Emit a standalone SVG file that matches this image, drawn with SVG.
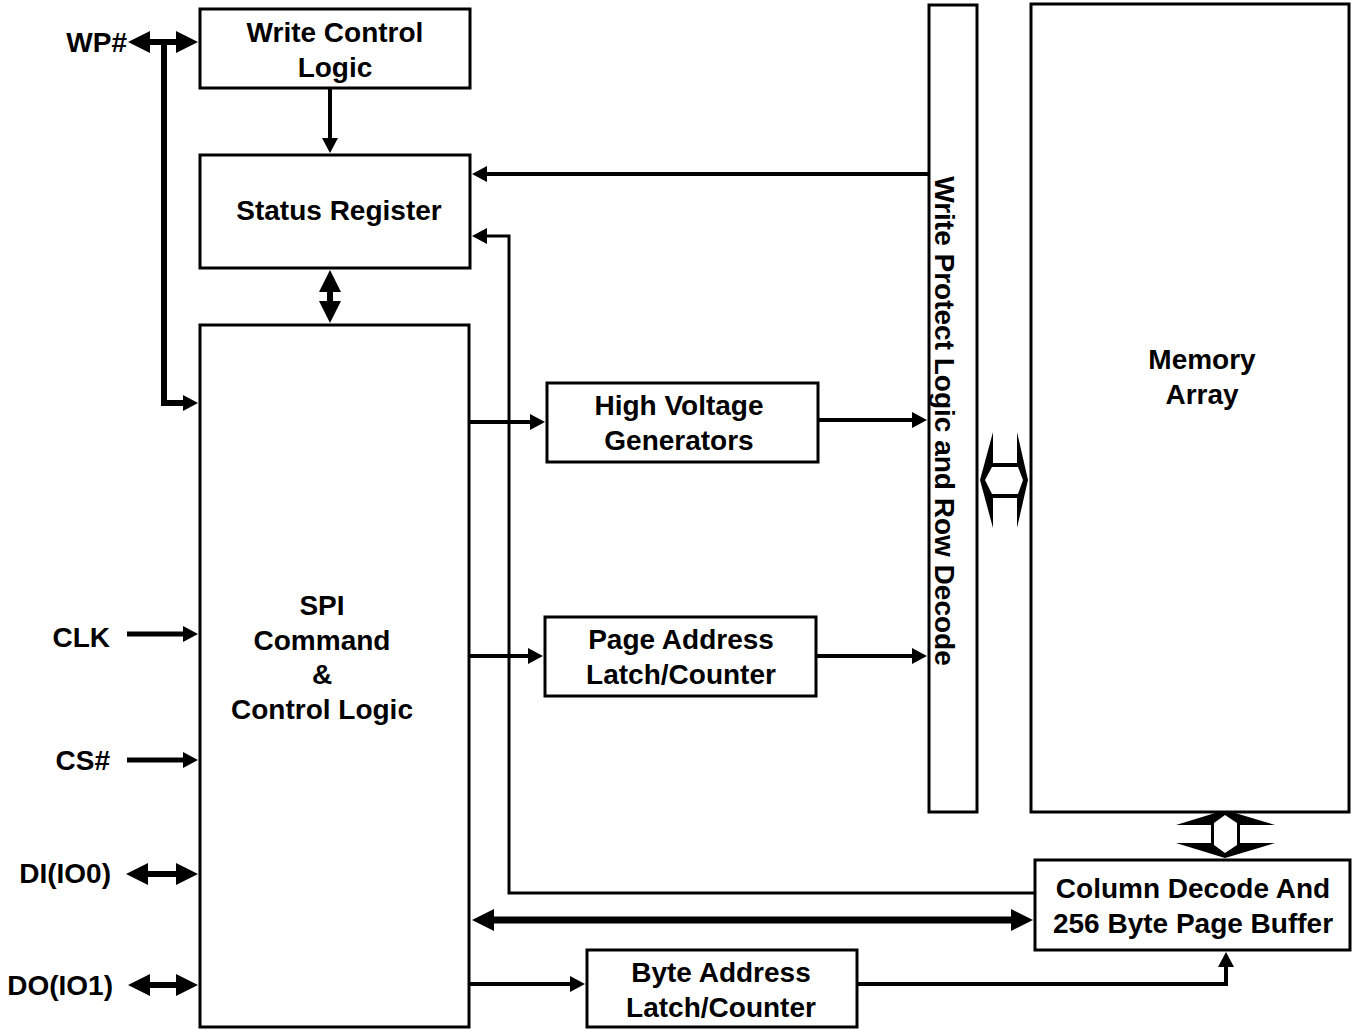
<svg xmlns="http://www.w3.org/2000/svg" width="1356" height="1029" viewBox="0 0 1356 1029">
<style>
.box{fill:#fff;stroke:#000;stroke-width:3}
.t{font-family:"Liberation Sans",Arial,sans-serif;font-weight:bold;font-size:28px;fill:#000}
.c{text-anchor:middle}
.e{text-anchor:end}
.ln{fill:none;stroke:#000;stroke-linejoin:miter}
.s{marker-end:url(#as)}
.d{marker-start:url(#al);marker-end:url(#al)}
.ho{fill:#000;stroke:none}
.hi{fill:#fff;stroke:none}
</style>
<defs>
<marker id="as" viewBox="0 0 15 16" refX="3" refY="8" markerWidth="15" markerHeight="16" markerUnits="userSpaceOnUse" orient="auto-start-reverse"><path d="M0,0 L15,8 L0,16 Z" fill="#000"/></marker>
<marker id="al" viewBox="0 0 22 22" refX="3" refY="11" markerWidth="22" markerHeight="22" markerUnits="userSpaceOnUse" orient="auto-start-reverse"><path d="M0,0 L22,11 L0,22 Z" fill="#000"/></marker>
</defs>
<rect width="1356" height="1029" fill="#fff"/>

<g id="connectors">
<path class="ln d" stroke-width="6" d="M147,42 H179"/>
<path class="ln s" stroke-width="6" d="M164,42 V403 H186"/>
<path class="ln s" stroke-width="4" d="M330,88 V141"/>
<path class="ln d" stroke-width="6" d="M330,289 V304"/>
<path class="ln s" stroke-width="4" d="M929,174 H484"/>
<path class="ln s" stroke-width="3" d="M1035,893 H509 V236 H484"/>
<path class="ln s" stroke-width="4" d="M470,422 H533"/>
<path class="ln s" stroke-width="4" d="M818,420 H915"/>
<path class="ln s" stroke-width="4" d="M470,656 H531"/>
<path class="ln s" stroke-width="4" d="M816,656 H915"/>
<path class="ln d" stroke-width="7" d="M491,920 H1014"/>
<path class="ln s" stroke-width="4" d="M470,984 H573"/>
<path class="ln s" stroke-width="4" d="M857,984 H1226 V964"/>
<path class="ln s" stroke-width="5" d="M127,634 H186"/>
<path class="ln s" stroke-width="5" d="M127,760 H186"/>
<path class="ln d" stroke-width="6" d="M145,874 H179"/>
<path class="ln d" stroke-width="6" d="M147,985 H179"/>
<g id="bus-wp-memory">
<polygon class="ho" points="980,480 993,432 993,463 1017,463 1017,432 1028,480 1017,528 1017,498 993,498 993,528"/>
<polygon class="hi" points="985,480 992,467 1018,467 1023,480 1018,494 992,494"/>
</g>
<g id="bus-memory-column">
<polygon class="ho" points="1225,810 1275,825 1240,825 1240,843 1275,843 1225,858 1176,843 1211,843 1211,825 1176,825"/>
<polygon class="hi" points="1225,815 1237,823 1237,845 1225,853 1214,845 1214,823"/>
</g>
</g>

<g id="labels">
<text class="t e" x="127" y="52">WP#</text>
<text class="t e" x="110" y="647">CLK</text>
<text class="t e" x="110" y="770">CS#</text>
<text class="t e" x="111" y="883">DI(IO0)</text>
<text class="t e" x="113" y="995">DO(IO1)</text>
</g>

<g id="write-control">
<rect class="box" x="200" y="9" width="270" height="79"/>
<text class="t c" x="335" y="42">Write Control</text>
<text class="t c" x="335" y="77">Logic</text>
</g>

<g id="status-register">
<rect class="box" x="200" y="155" width="270" height="113"/>
<text class="t c" x="339" y="220">Status Register</text>
</g>

<g id="spi">
<rect class="box" x="200" y="325" width="269" height="702"/>
<text class="t c" x="322" y="615">SPI</text>
<text class="t c" x="322" y="650">Command</text>
<text class="t c" x="322" y="684">&amp;</text>
<text class="t c" x="322" y="719">Control Logic</text>
</g>

<g id="high-voltage">
<rect class="box" x="547" y="383" width="271" height="79"/>
<text class="t c" x="679" y="415">High Voltage</text>
<text class="t c" x="679" y="450">Generators</text>
</g>

<g id="page-address">
<rect class="box" x="545" y="617" width="271" height="79"/>
<text class="t c" x="681" y="649">Page Address</text>
<text class="t c" x="681" y="684">Latch/Counter</text>
</g>

<g id="byte-address">
<rect class="box" x="587" y="950" width="270" height="77"/>
<text class="t c" x="721" y="982">Byte Address</text>
<text class="t c" x="721" y="1017">Latch/Counter</text>
</g>

<g id="write-protect">
<rect class="box" x="929" y="5" width="48" height="807"/>
<text class="t c" transform="translate(935,421) rotate(90)">Write Protect Logic and Row Decode</text>
</g>

<g id="memory-array">
<rect class="box" x="1031" y="4" width="318" height="808"/>
<text class="t c" x="1202" y="369">Memory</text>
<text class="t c" x="1202" y="404">Array</text>
</g>

<g id="column-decode">
<rect class="box" x="1035" y="860" width="315" height="90"/>
<text class="t c" x="1193" y="898">Column Decode And</text>
<text class="t c" x="1193" y="933">256 Byte Page Buffer</text>
</g>
</svg>
